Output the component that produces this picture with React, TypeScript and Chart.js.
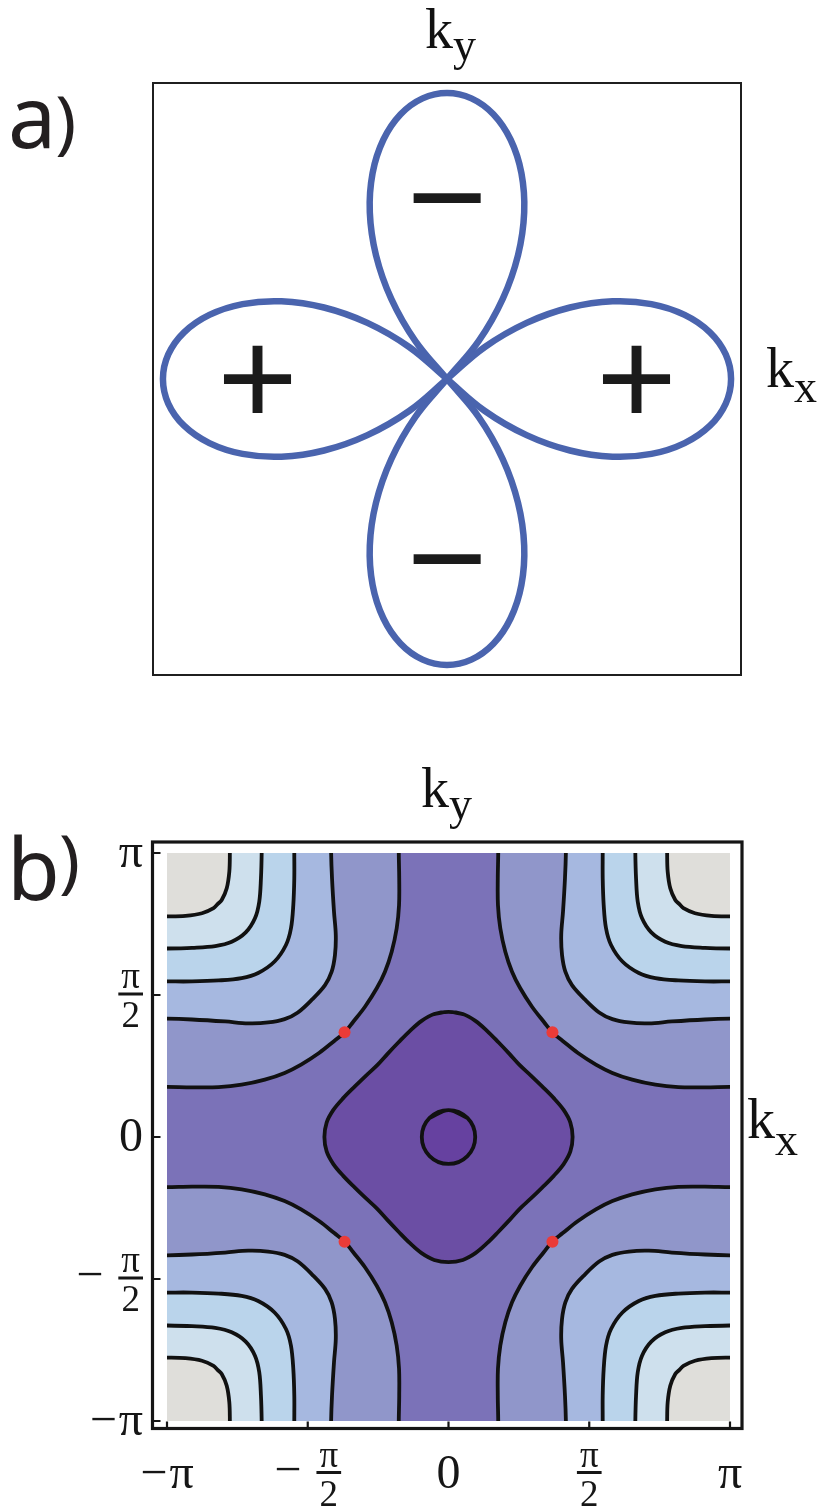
import React, { useEffect, useRef } from 'react';
import { Chart, registerables } from 'chart.js';

Chart.register(...registerables);

type Pt = [number, number];
const PI = Math.PI;

// ---------------- (a) d-wave gap on the Fermi surface ----------------
// |Δ(φ)| / Δ0 along one half-lobe; φ is the angle from the lobe axis in degrees
const gapAngles = [0, 5, 10, 15, 20, 25, 30, 35, 40, 45];
const gapMagnitude = [1.0, 0.985, 0.94, 0.866, 0.766, 0.643, 0.5, 0.342, 0.174, 0.0];
// direction of each lobe (degrees) and the sign of the gap on it
const lobeAxes = [0, 90, 180, 270];
const lobeSigns = ['+', '−', '+', '−'];

// ---------------- (b) band dispersion over the Brillouin zone ----------------
const tickValues = [-PI, -PI / 2, 0, PI / 2, PI];
const tickLabels = ['−π', '−π/2', '0', 'π/2', 'π'];

// iso-energy lines in the upper-left quadrant, from the ky = π edge down to the ky = −kx diagonal
const contour1: Pt[] = [[-2.44, PI], [-2.446, 2.935], [-2.475, 2.751], [-2.531, 2.622], [-2.577, 2.577]];
const contour2: Pt[] = [[-2.085, PI], [-2.093, 2.862], [-2.112, 2.603], [-2.16, 2.419], [-2.263, 2.263]];
const contour3: Pt[] = [[-1.721, PI], [-1.721, 2.862], [-1.732, 2.566], [-1.758, 2.309], [-1.814, 2.124], [-1.941, 1.941]];
const contour4: Pt[] = [[-1.31, PI], [-1.3, 2.862], [-1.278, 2.492], [-1.258, 2.235], [-1.267, 2.013], [-1.304, 1.829], [-1.378, 1.681], [-1.522, 1.522]];
const fermiContour: Pt[] = [[-0.555, PI], [-0.55, 2.862], [-0.552, 2.566], [-0.578, 2.309], [-0.634, 2.05], [-0.709, 1.829], [-0.801, 1.645], [-0.932, 1.441], [-1.063, 1.275], [-1.158, 1.158]];
// closed pockets around Γ: one octant each, from the ky axis to the diagonal
const diamondOctant: Pt[] = [[0, 1.385], [-0.16, 1.36], [-0.3, 1.285], [-0.43, 1.175], [-0.56, 1.045], [-0.68, 0.92], [-0.795, 0.795]];
const innerOctant: Pt[] = [[0, 0.298], [-0.211, 0.211]];
// gap nodes where the Fermi line crosses the zone diagonals
const nodePoints: Pt[] = [[-1.16, 1.16], [1.16, 1.16], [-1.16, -1.16], [1.16, -1.16]];
// shading from the zone corners (top of the band) to the zone centre
const bandColors = ['#DFDEDA', '#CEE0ED', '#BAD4EB', '#A6B8E0', '#9096CA', '#7B72B8', '#6B4EA4', '#6641A0'];

// ---------------- geometry helpers ----------------
// reflect a half-curve about ky = -kx and append it, sharing the point on the diagonal
const mirrorDiag = (half: Pt[]): Pt[] => [
  ...half,
  ...half.slice(0, -1).reverse().map(([x, y]) => [-y, -x] as Pt),
];
const flip = (pts: Pt[], sx: number, sy: number): Pt[] => pts.map(([x, y]) => [x * sx, y * sy] as Pt);
const quadrants: Pt[] = [[1, 1], [-1, 1], [1, -1], [-1, -1]];

// closed ring from one octant; a few points are wrapped so the spline is smooth across the seam
function closedLoop(octant: Pt[]): Pt[] {
  const ul = mirrorDiag(octant);
  const ll = flip(ul, 1, -1).reverse();
  const lr = flip(ul, -1, -1);
  const ur = flip(ul, -1, 1).reverse();
  const ring = [...ul, ...ll.slice(1), ...lr.slice(1), ...ur.slice(1, -1)];
  return [ring[ring.length - 1], ...ring, ring[0], ring[1]];
}

// scatter data; ascending runs are reversed so Chart.js never trims them as sorted series
function toData(pts: Pt[]) {
  const ascending = pts.every((p, i) => i === 0 || p[0] >= pts[i - 1][0]);
  const arr = ascending ? [...pts].reverse() : pts;
  return arr.map(([x, y]) => ({ x, y }));
}

const SERIF = "'Liberation Serif', 'Times New Roman', serif";
const SANS = "'Noto Sans', 'Open Sans', sans-serif";

function drawKLabel(ctx: CanvasRenderingContext2D, x: number, base: number, sub: string, subBase: number) {
  ctx.save();
  ctx.fillStyle = '#111';
  ctx.textAlign = 'left';
  ctx.textBaseline = 'alphabetic';
  ctx.font = `56px ${SERIF}`;
  ctx.fillText('k', x, base);
  const w = ctx.measureText('k').width;
  ctx.font = `46px ${SERIF}`;
  ctx.fillText(sub, x + w, subBase);
  ctx.restore();
}

function drawPanelTag(ctx: CanvasRenderingContext2D, letter: string, x: number, base: number, parenBase: number) {
  ctx.save();
  ctx.fillStyle = '#231f20';
  ctx.textAlign = 'left';
  ctx.textBaseline = 'alphabetic';
  ctx.font = `86px ${SANS}`;
  ctx.fillText(letter, x, base);
  const w = ctx.measureText(letter).width;
  ctx.font = `70px ${SANS}`;
  ctx.fillText(')', x + w - 1, parenBase);
  ctx.restore();
}

// ---------------- panel (a) ----------------
function lobePoints(axisDeg: number): Pt[] {
  const offsets = [...gapAngles.slice().reverse().map((a) => -a), ...gapAngles.slice(1)];
  return offsets.map((a) => {
    const r = gapMagnitude[gapAngles.indexOf(Math.abs(a))];
    const t = ((axisDeg + a) * PI) / 180;
    return [r * Math.cos(t), r * Math.sin(t)] as Pt;
  });
}

function PanelA() {
  const ref = useRef<HTMLCanvasElement>(null);
  useEffect(() => {
    if (!ref.current) return;
    const decor = {
      id: 'panelADecor',
      afterDatasetsDraw(chart: any) {
        const { ctx } = chart;
        const xs = chart.scales.x;
        const ys = chart.scales.y;
        ctx.save();
        ctx.fillStyle = '#1b1b1b';
        ctx.textAlign = 'center';
        ctx.textBaseline = 'alphabetic';
        ctx.font = `138px 'Liberation Sans', Arial, sans-serif`;
        lobeAxes.forEach((deg, i) => {
          const sign = lobeSigns[i];
          const r = sign === '+' ? 0.667 : 0.632;
          const t = (deg * PI) / 180;
          const m = ctx.measureText(sign);
          // centre the glyph's ink on the anchor point
          const cy = ys.getPixelForValue(r * Math.sin(t));
          const base = cy + (m.actualBoundingBoxAscent - m.actualBoundingBoxDescent) / 2;
          ctx.fillText(sign, xs.getPixelForValue(r * Math.cos(t)), base);
        });
        ctx.restore();
      },
      afterDraw(chart: any) {
        const { ctx, chartArea: a } = chart;
        ctx.save();
        ctx.strokeStyle = '#1f1f1f';
        ctx.lineWidth = 2;
        ctx.strokeRect(a.left, a.top, a.right - a.left, a.bottom - a.top);
        ctx.restore();
        drawKLabel(ctx, 425, 48, 'y', 60);
        drawKLabel(ctx, 766, 387, 'x', 402);
        drawPanelTag(ctx, 'a', 8, 148, 146);
      },
    };
    const chart = new Chart(ref.current, {
      type: 'scatter',
      data: {
        datasets: lobeAxes.map((deg) => ({
          data: toData(lobePoints(deg)),
          showLine: true,
          borderColor: '#4A64AE',
          borderWidth: 6.5,
          borderCapStyle: 'round',
          borderJoinStyle: 'round',
          tension: 0.4,
          pointRadius: 0,
          pointHoverRadius: 0,
          fill: false,
        })),
      } as any,
      options: {
        animation: false,
        responsive: false,
        devicePixelRatio: 1,
        events: [],
        layout: { padding: { left: 153, top: 83, right: 80, bottom: 70 } },
        elements: { line: { capBezierPoints: false } },
        scales: {
          x: { type: 'linear', min: -1.035, max: 1.035, display: false },
          y: { type: 'linear', min: -1.035, max: 1.035, display: false },
        },
        plugins: { legend: { display: false }, tooltip: { enabled: false } },
      } as any,
      plugins: [decor],
    });
    return () => chart.destroy();
  }, []);
  return <canvas ref={ref} width={821} height={745} style={{ position: 'absolute', left: 0, top: 0, width: 821, height: 745 }} />;
}

// ---------------- panel (b) ----------------
function drawTickLabel(ctx: CanvasRenderingContext2D, label: string, anchorX: number, midY: number, baseY: number, align: 'right' | 'center') {
  const main = `48px ${SERIF}`;
  const small = `37px ${SERIF}`;
  const neg = label.startsWith('−');
  const body = neg ? label.slice(1) : label;
  const [num, den] = body.split('/');
  ctx.font = main;
  const signW = neg ? ctx.measureText('−').width : 0;
  let bodyW: number;
  if (den) {
    ctx.font = small;
    bodyW = Math.max(ctx.measureText(num).width, ctx.measureText(den).width) + 6;
  } else {
    ctx.font = main;
    bodyW = ctx.measureText(body).width;
  }
  const gap = neg ? (den ? 15 : 2) : 0;
  const total = signW + gap + bodyW;
  let x = align === 'right' ? anchorX - total : anchorX - total / 2;
  ctx.textBaseline = 'alphabetic';
  ctx.textAlign = 'left';
  if (neg) {
    ctx.font = main;
    ctx.fillText('−', x, den ? midY + 12 : baseY);
    x += signW + gap;
  }
  if (den) {
    ctx.font = small;
    ctx.textAlign = 'center';
    const cx = x + bodyW / 2;
    ctx.fillText(num, cx, midY - 6);
    ctx.fillRect(x, midY - 1.5, bodyW, 3);
    ctx.fillText(den, cx, midY + 33);
  } else {
    ctx.font = main;
    ctx.fillText(body, x, baseY);
  }
}

function buildPanelBDatasets() {
  const openContours = [contour1, contour2, contour3, contour4, fermiContour];
  const base = { showLine: true, pointRadius: 0, pointHoverRadius: 0, tension: 0.35, capBezierPoints: false };
  const painted: any[] = [];
  // shaded bands, outermost first so each corner layer covers the previous one
  for (let i = openContours.length - 1; i >= 0; i--) {
    const full = mirrorDiag(openContours[i]);
    const x0 = full[0][0];
    const yEnd = full[full.length - 1][1];
    const poly: Pt[] = [[-PI - 1.5, PI + 1.5], [x0, PI + 1], [x0, PI + 0.5], ...full, [-PI - 0.5, yEnd], [-PI - 1, yEnd]];
    for (const [sx, sy] of quadrants) {
      painted.push({ ...base, data: toData(flip(poly, sx, sy)), fill: 'shape', backgroundColor: bandColors[i], borderColor: 'rgba(0,0,0,0)', borderWidth: 0 });
    }
  }
  painted.push({ ...base, data: toData(closedLoop(diamondOctant)), fill: 'shape', backgroundColor: bandColors[6], borderColor: 'rgba(0,0,0,0)', borderWidth: 0 });
  painted.push({ ...base, data: toData(closedLoop(innerOctant)), fill: 'shape', backgroundColor: bandColors[7], borderColor: 'rgba(0,0,0,0)', borderWidth: 0 });
  // contour lines
  const line = { ...base, fill: false, borderColor: '#111111', borderWidth: 3.8, borderJoinStyle: 'round', borderCapStyle: 'butt', clip: 0 };
  for (const c of openContours) {
    const full = mirrorDiag(c);
    const x0 = full[0][0];
    const yEnd = full[full.length - 1][1];
    const ext: Pt[] = [[x0, PI + 0.25], ...full, [-PI - 0.25, yEnd]];
    for (const [sx, sy] of quadrants) painted.push({ ...line, data: toData(flip(ext, sx, sy)) });
  }
  painted.push({ ...line, data: toData(closedLoop(diamondOctant)) });
  painted.push({ ...line, data: toData(closedLoop(innerOctant)) });
  // nodes
  painted.push({
    data: toData(nodePoints),
    showLine: false,
    pointRadius: 6,
    pointHoverRadius: 6,
    pointBackgroundColor: '#EA3B38',
    pointBorderWidth: 0,
    pointBorderColor: 'rgba(0,0,0,0)',
  });
  const n = painted.length;
  return painted.map((d, i) => ({ ...d, order: n - i }));
}

function PanelB() {
  const ref = useRef<HTMLCanvasElement>(null);
  useEffect(() => {
    if (!ref.current) return;
    const frameGap = { left: 14.5, right: 12, top: 11, bottom: 7.5 };
    const decor = {
      id: 'panelBDecor',
      beforeDatasetsDraw(chart: any) {
        const { ctx, chartArea: a } = chart;
        ctx.save();
        ctx.fillStyle = bandColors[5];
        ctx.fillRect(a.left, a.top, a.right - a.left, a.bottom - a.top);
        ctx.restore();
      },
      afterDraw(chart: any) {
        const { ctx, chartArea: a } = chart;
        const xs = chart.scales.x;
        const ys = chart.scales.y;
        const fl = a.left - frameGap.left;
        const fr = a.right + frameGap.right;
        const ft = a.top - frameGap.top;
        const fb = a.bottom + frameGap.bottom;
        ctx.save();
        ctx.strokeStyle = '#151515';
        ctx.lineWidth = 3.2;
        ctx.strokeRect(fl, ft, fr - fl, fb - ft);
        ctx.lineWidth = 2.2;
        ctx.beginPath();
        tickValues.forEach((v) => {
          const py = ys.getPixelForValue(v);
          ctx.moveTo(fl, py);
          ctx.lineTo(fl + 8, py);
          const px = xs.getPixelForValue(v);
          ctx.moveTo(px, fb);
          ctx.lineTo(px, fb - 7);
        });
        ctx.stroke();
        ctx.fillStyle = '#161616';
        tickValues.forEach((v, i) => {
          const py = ys.getPixelForValue(v);
          drawTickLabel(ctx, tickLabels[i], fl - 9.5, py - 1, py + 14, 'right');
          const px = xs.getPixelForValue(v);
          drawTickLabel(ctx, tickLabels[i], px, fb + 44, fb + 59, 'center');
        });
        ctx.restore();
        drawKLabel(ctx, 421, 62, 'y', 74);
        drawKLabel(ctx, 747, 393, 'x', 410);
        drawPanelTag(ctx, 'b', 7, 155, 140);
      },
    };
    const chart = new Chart(ref.current, {
      type: 'scatter',
      data: { datasets: buildPanelBDatasets() } as any,
      options: {
        animation: false,
        responsive: false,
        devicePixelRatio: 1,
        events: [],
        layout: { padding: { left: 167, top: 108, right: 91, bottom: 91 } },
        elements: { line: { capBezierPoints: false } },
        scales: {
          x: { type: 'linear', min: -PI, max: PI, display: false },
          y: { type: 'linear', min: -PI, max: PI, display: false },
        },
        plugins: { legend: { display: false }, tooltip: { enabled: false } },
      } as any,
      plugins: [decor],
    });
    return () => chart.destroy();
  }, []);
  return <canvas ref={ref} width={821} height={767} style={{ position: 'absolute', left: 0, top: 745, width: 821, height: 767 }} />;
}

export default function App() {
  return (
    <div style={{ position: 'absolute', left: 0, top: 0, width: 821, height: 1512, background: '#ffffff', overflow: 'hidden' }}>
      <PanelA />
      <PanelB />
    </div>
  );
}
